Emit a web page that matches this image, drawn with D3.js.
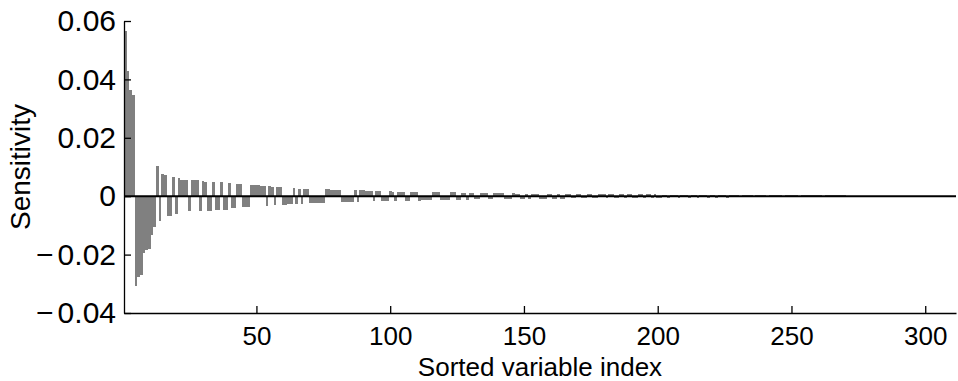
<!DOCTYPE html>
<html>
<head>
<meta charset="utf-8">
<script src="https://cdn.jsdelivr.net/npm/d3@7"></script>
<style>
  body { margin: 0; background: #fff; }
  svg text { font-family: "Liberation Sans", Arial, Helvetica, sans-serif; }
  .axis path, .axis line { stroke: #000; stroke-width: 1.3; }
  .axis text { font-size: 26px; fill: #000; }
  .yaxis text { font-size: 30px; }
  .bar { fill: #808080; }
</style>
</head>
<body>
<svg id="myGraph" width="958" height="381"></svg>
<script>
// sensitivity of each variable, sorted (index 1 .. n)
var sensitivity = [
   0.0566,  0.0429,  0.0364,  0.0347, -0.0307, -0.0277, -0.0270, -0.0193, -0.0185, -0.0180,
  -0.0133, -0.0104,  0.0103, -0.0084,  0.0076,  0.0073, -0.0067, -0.0067,  0.0066, -0.0061,
   0.0062,  0.0057,  0.0057,  0.0056, -0.0052,  0.0055,  0.0055,  0.0054, -0.0051,  0.0051,
   0.0050, -0.0049, -0.0049,  0.0049, -0.0047, -0.0047,  0.0047, -0.0046, -0.0046,  0.0045,
  -0.0040, -0.0040,  0.0042,  0.0042, -0.0038, -0.0037, -0.0037,  0.0039,  0.0038,  0.0038,
   0.0037,  0.0036,  0.0036, -0.0033,  0.0034,  0.0033, -0.0031,  0.0032,  0.0031, -0.0029,
  -0.0029, -0.0028, -0.0028,  0.0027, -0.0026,  0.0026, -0.0026,  0.0026,  0.0025, -0.0024,
  -0.0024, -0.0023, -0.0023, -0.0023, -0.0023,  0.0023,  0.0023,  0.0022,  0.0022,  0.0022,
   0.0022, -0.0021, -0.0021, -0.0021, -0.0021, -0.0020,  0.0020, -0.0020,  0.0020,  0.0020,
   0.0019,  0.0019,  0.0019, -0.0018,  0.0018,  0.0018, -0.0017, -0.0017, -0.0017,  0.0017,
   0.0016, -0.0016,  0.0016,  0.0016,  0.0016, -0.0015, -0.0015,  0.0015,  0.0015,  0.0015,
  -0.0015, -0.0014, -0.0014, -0.0014, -0.0014,  0.0014,  0.0014,  0.0014, -0.0013, -0.0013,
  -0.0013, -0.0013,  0.0013,  0.0013, -0.0012, -0.0012,  0.0012,  0.0012, -0.0012,  0.0012,
   0.0011, -0.0011, -0.0011,  0.0011,  0.0011,  0.0011, -0.0011, -0.0010,  0.0010,  0.0010,
   0.0010,  0.0010, -0.0010, -0.0010, -0.0010,  0.0010,  0.0009,  0.0009, -0.0009, -0.0009,
   0.0009, -0.0009,  0.0009,  0.0009,  0.0009, -0.0008, -0.0008, -0.0008,  0.0008,  0.0008,
  -0.0008, -0.0008,  0.0008, -0.0008, -0.0008,  0.0008,  0.0007, -0.0007, -0.0007,  0.0007,
   0.0007, -0.0007, -0.0007,  0.0007,  0.0007, -0.0007, -0.0007,  0.0007,  0.0007,  0.0007,
  -0.0007,  0.0006,  0.0006, -0.0006, -0.0006,  0.0006,  0.0006, -0.0006,  0.0006,  0.0006,
  -0.0006, -0.0006,  0.0006,  0.0006, -0.0006,  0.0006,  0.0006, -0.0006,  0.0006, -0.0006,
  -0.0006,  0.0005,  0.0005, -0.0005,  0.0005,  0.0005,  0.0005, -0.0005,  0.0005,  0.0005,
   0.0005, -0.0005,  0.0005,  0.0005, -0.0005,  0.0005,  0.0005,  0.0005, -0.0005,  0.0005,
   0.0005, -0.0005,  0.0005,  0.0005,  0.0005, -0.0005,  0.0005,  0.0005,  0.0004,  0.0004,
  -0.0004,  0.0004,  0.0004,  0.0004,  0.0004, -0.0004,  0.0004,  0.0004,  0.0004,  0.0004,
  -0.0004,  0.0004,  0.0004,  0.0004,  0.0004,  0.0004, -0.0004,  0.0004,  0.0004,  0.0004,
   0.0004,  0.0004, -0.0004,  0.0004,  0.0004,  0.0004,  0.0004,  0.0004,  0.0004,  0.0004,
   0.0004, -0.0003,  0.0003,  0.0003,  0.0003,  0.0003,  0.0003,  0.0003,  0.0003,  0.0003,
   0, 0, 0, 0, 0, 0, 0, 0, 0, 0,
   0, 0, 0, 0, 0, 0, 0, 0, 0, 0,
   0, 0, 0, 0, 0, 0, 0, 0, 0, 0,
   0, 0, 0, 0, 0, 0, 0, 0, 0, 0,
   0
];
var xTicks = [50, 100, 150, 200, 250, 300];
var yTicks = [-0.04, -0.02, 0, 0.02, 0.04, 0.06];
var xLabel = "Sorted variable index";
var yLabel = "Sensitivity";

// plot area (window.top is reserved, so use other names)
var plotLeft = 124, plotRight = 956, plotTop = 21, plotBottom = 313;
var svg = d3.select("#myGraph");

var xScale = d3.scaleLinear()
  .domain([0.5, sensitivity.length + 0.5])
  .range([plotLeft, plotRight]);
var yScale = d3.scaleLinear()
  .domain([-0.04, 0.06])
  .range([plotBottom, plotTop]);

// bars
svg.append("g")
  .selectAll("rect")
  .data(sensitivity)
  .enter()
  .append("rect")
  .attr("class", "bar")
  .attr("x", function(d, i){ return xScale(i + 0.5); })
  .attr("width", function(d, i){ return xScale(i + 1.5) - xScale(i + 0.5); })
  .attr("y", function(d){ return yScale(Math.max(d, 0)); })
  .attr("height", function(d){ return Math.abs(yScale(d) - yScale(0)); })
  .attr("shape-rendering", "crispEdges");

// zero line
svg.append("line")
  .attr("x1", plotLeft).attr("x2", plotRight)
  .attr("y1", yScale(0)).attr("y2", yScale(0))
  .attr("stroke", "#000")
  .attr("stroke-width", 2);

// axes, ticks pointing inward
svg.append("g")
  .attr("class", "axis")
  .attr("transform", "translate(0," + plotBottom + ")")
  .call(d3.axisBottom(xScale)
    .tickValues(xTicks)
    .tickSizeInner(-7)
    .tickSizeOuter(0)
    .tickPadding(14));

var yAxisG = svg.append("g")
  .attr("class", "axis yaxis")
  .attr("transform", "translate(" + plotLeft + ",0)")
  .call(d3.axisLeft(yScale)
    .tickValues(yTicks)
    .tickSizeInner(-7)
    .tickSizeOuter(0)
    .tickPadding(8)
    .tickFormat(function(d){ return d === 0 ? "0" : d3.format(".2f")(d); }));

// slightly looser minus sign, like the original figure
yAxisG.selectAll(".tick text").each(function(d){
  if (d < 0) {
    var t = d3.select(this).text("");
    t.append("tspan").text("\u2212");
    t.append("tspan").attr("dx", 4).text(d3.format(".2f")(-d));
  }
});

svg.selectAll(".axis .domain").attr("fill", "none");

// axis titles
svg.append("text")
  .attr("x", (plotLeft + plotRight) / 2)
  .attr("y", 376)
  .attr("text-anchor", "middle")
  .attr("font-size", 26)
  .text(xLabel);

svg.append("text")
  .attr("transform", "translate(30," + (plotTop + plotBottom) / 2 + ") rotate(-90)")
  .attr("text-anchor", "middle")
  .attr("font-size", 28)
  .text(yLabel);
</script>
</body>
</html>
